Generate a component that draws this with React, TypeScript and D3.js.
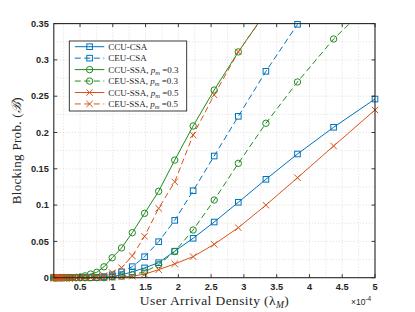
import React from "react";
import * as d3 from "d3";

// x values in units of 1e-4 (log-spaced samples)
const xVals = [
  0.1, 0.11444, 0.13097, 0.14988, 0.17153, 0.1963, 0.22465, 0.25709, 0.29422, 0.33671,
  0.38534, 0.44099, 0.50468, 0.57756, 0.66097, 0.75642, 0.86566, 0.99068, 1.13375, 1.29748,
  1.48486, 1.6993, 1.9447, 2.22555, 2.54696, 2.91478, 3.33571, 3.81744, 4.36874, 5.0,
];

const ccuCsa = [
  0, 0, 0, 0, 0, 0, 0, 0, 0, 0, 0, 0, 0, 0, 0, 0, 0.0005, 0.0015, 0.004, 0.008,
  0.0135, 0.0207, 0.0365, 0.0543, 0.0767, 0.1039, 0.1355, 0.1704, 0.2072, 0.2461,
];
const ceuCsa = [
  0, 0, 0, 0, 0, 0, 0, 0, 0, 0, 0, 0, 0, 0, 0, 0.0005, 0.0015, 0.004, 0.008, 0.0152,
  0.0289, 0.0496, 0.079, 0.1198, 0.1676, 0.2223, 0.2843, 0.349, null, null,
];
const ccuSsa3 = [
  0, 0, 0, 0, 0, 0, 0, 0, 0, 0, 0, 0.0005, 0.001, 0.0025, 0.005, 0.0075, 0.015, 0.0275, 0.041, 0.062,
  0.0887, 0.119, 0.162, 0.209, 0.2585, 0.311, 0.366, null, null, null,
];
const ceuSsa3 = [
  0, 0, 0, 0, 0, 0, 0, 0, 0, 0, 0, 0, 0, 0, 0, 0, 0, 0.001, 0.002, 0.004,
  0.008, 0.018, 0.036, 0.0657, 0.107, 0.1575, 0.2127, 0.2696, 0.3288, 0.3835,
];
const ccuSsa5 = [
  0, 0, 0, 0, 0, 0, 0, 0, 0, 0, 0, 0, 0, 0, 0, 0, 0, 0, 0.001, 0.002,
  0.005, 0.011, 0.019, 0.029, 0.046, 0.0689, 0.1, 0.1377, 0.1814, 0.231,
];
const ceuSsa5 = [
  0, 0, 0, 0, 0, 0, 0, 0, 0, 0, 0, 0, 0, 0, 0.0003, 0.001, 0.003, 0.007, 0.0138, 0.03,
  0.057, 0.0956, 0.132, 0.1966, 0.2517, 0.311, 0.365, null, null, null,
];

const xTicks = [0.5, 1, 1.5, 2, 2.5, 3, 3.5, 4, 4.5, 5];
const xTickLabels = ["0.5", "1", "1.5", "2", "2.5", "3", "3.5", "4", "4.5", "5"];
const yTicks = [0, 0.05, 0.1, 0.15, 0.2, 0.25, 0.3, 0.35];
const yTickLabels = ["0", "0.05", "0.1", "0.15", "0.2", "0.25", "0.3", "0.35"];

type Series = {
  name: string;
  pm?: string;
  values: (number | null)[];
  color: string;
  dashed: boolean;
  marker: "square" | "circle" | "x";
};

const BLUE = "#0072BD";
const GREEN = "#1E8C1E";
const ORANGE = "#D95319";

const series: Series[] = [
  { name: "CCU-CSA", values: ccuCsa, color: BLUE, dashed: false, marker: "square" },
  { name: "CEU-CSA", values: ceuCsa, color: BLUE, dashed: true, marker: "square" },
  { name: "CCU-SSA, ", pm: "0.3", values: ccuSsa3, color: GREEN, dashed: false, marker: "circle" },
  { name: "CEU-SSA, ", pm: "0.3", values: ceuSsa3, color: GREEN, dashed: true, marker: "circle" },
  { name: "CCU-SSA, ", pm: "0.5", values: ccuSsa5, color: ORANGE, dashed: false, marker: "x" },
  { name: "CEU-SSA, ", pm: "0.5", values: ceuSsa5, color: ORANGE, dashed: true, marker: "x" },
];

const W = 415;
const H = 312;
const L = 53.8;
const R = 375;
const T = 23.6;
const B = 277.7;

function Marker({ type, x, y, color }: { type: string; x: number; y: number; color: string }) {
  if (type === "square") {
    return <rect x={x - 2.8} y={y - 2.8} width={5.6} height={5.6} fill="none" stroke={color} strokeWidth={1} />;
  }
  if (type === "circle") {
    return <circle cx={x} cy={y} r={3.2} fill="none" stroke={color} strokeWidth={1} />;
  }
  const s = 3.2;
  return (
    <path
      d={`M${x - s},${y - s}L${x + s},${y + s}M${x - s},${y + s}L${x + s},${y - s}`}
      stroke={color}
      strokeWidth={1}
      fill="none"
    />
  );
}

export default function App() {
  const x = d3.scaleLinear().domain([0.1, 5]).range([L, R]);
  const y = d3.scaleLinear().domain([0, 0.35]).range([B, T]);

  const line = d3
    .line<[number, number | null]>()
    .defined((d) => d[1] !== null)
    .x((d) => x(d[0]))
    .y((d) => y(d[1] as number));

  const minorX = d3.range(0.25, 5.001, 0.25);
  const minorY = d3.range(0.025, 0.3501, 0.025);

  const axisColor = "#262626";
  const tickLen = 3.5;
  const fontTick = "'Liberation Sans', Arial, sans-serif";
  const fontSerif = "'Liberation Serif', 'DejaVu Serif', serif";

  const legX = 69.3;
  const legY = 41;
  const legW = 117.4;
  const legH = 70;
  const rowH = 11.45;

  return (
    <svg width={W} height={H} style={{ position: "absolute", left: 0, top: 0, background: "#fff" }}>
      <defs>
        <clipPath id="plotClip">
          <rect x={L} y={T} width={R - L} height={B - T} />
        </clipPath>
      </defs>
      <rect x={0} y={0} width={W} height={H} fill="#fff" />
      {/* grid */}
      <g stroke="#c8c8c8" strokeWidth={0.6} strokeDasharray="1,2">
        {minorX.map((v, i) => (
          <line key={"gx" + i} x1={x(v)} x2={x(v)} y1={T} y2={B} />
        ))}
        {minorY.map((v, i) => (
          <line key={"gy" + i} x1={L} x2={R} y1={y(v)} y2={y(v)} />
        ))}
      </g>
      {/* series lines */}
      <g clipPath="url(#plotClip)">
        {series.map((s, i) => (
          <path
            key={"l" + i}
            d={line(xVals.map((xv, j) => [xv, s.values[j]] as [number, number | null])) || ""}
            fill="none"
            stroke={s.color}
            strokeWidth={1}
            strokeDasharray={s.dashed ? "6,3.5" : undefined}
          />
        ))}
      </g>
      {/* markers */}
      {series.map((s, i) => (
        <g key={"m" + i}>
          {xVals.map((xv, j) => {
            const v = s.values[j];
            if (v === null || v > 0.3505) return null;
            return <Marker key={j} type={s.marker} x={x(xv)} y={y(v)} color={s.color} />;
          })}
        </g>
      ))}
      {/* axes box */}
      <rect x={L} y={T} width={R - L} height={B - T} fill="none" stroke={axisColor} strokeWidth={1.1} />
      <g stroke={axisColor} strokeWidth={0.9}>
        {xTicks.map((v, i) => (
          <g key={"xt" + i}>
            <line x1={x(v)} x2={x(v)} y1={B} y2={B - tickLen} />
            <line x1={x(v)} x2={x(v)} y1={T} y2={T + tickLen} />
          </g>
        ))}
        {yTicks.map((v, i) => (
          <g key={"yt" + i}>
            <line x1={L} x2={L + tickLen} y1={y(v)} y2={y(v)} />
            <line x1={R} x2={R - tickLen} y1={y(v)} y2={y(v)} />
          </g>
        ))}
      </g>
      {/* tick labels */}
      <g fontFamily={fontTick} fontSize={9.2} fontWeight="bold" fill="#262626">
        {xTicks.map((v, i) => (
          <text key={"xl" + i} x={x(v)} y={B + 12.5} textAnchor="middle">
            {xTickLabels[i]}
          </text>
        ))}
        {yTicks.map((v, i) => (
          <text key={"yl" + i} x={L - 5} y={y(v) + 3.2} textAnchor="end">
            {yTickLabels[i]}
          </text>
        ))}
        <text x={351} y={304.5} fontSize={8.5} fontWeight="normal">
          ×10
          <tspan fontSize={6.5} dy={-4}>
            -4
          </tspan>
        </text>
      </g>
      {/* axis labels */}
      <text
        x={214.5}
        y={305}
        textAnchor="middle"
        fontFamily={fontSerif}
        fontSize={13.5}
        letterSpacing={0.4}
        fill="#262626"
      >
        User Arrival Density (λ
        <tspan fontStyle="italic" fontSize={9.5} dy={2.5}>
          M
        </tspan>
        <tspan dy={-2.5}>)</tspan>
      </text>
      <text
        transform={`translate(21,${(T + B) / 2}) rotate(-90)`}
        textAnchor="middle"
        fontFamily={fontSerif}
        fontSize={13}
        letterSpacing={0.3}
        fill="#262626"
      >
        Blocking Prob. (<tspan fontStyle="italic">ℬ</tspan>)
      </text>
      {/* legend */}
      <g>
        <rect x={legX} y={legY} width={legW} height={legH} fill="#fff" stroke="#262626" strokeWidth={0.9} />
        {series.map((s, i) => {
          const cy = legY + 5.3 + rowH * i + 0.4;
          return (
            <g key={"lg" + i}>
              <line
                x1={legX + 5.5}
                x2={legX + 35}
                y1={cy}
                y2={cy}
                stroke={s.color}
                strokeWidth={1}
                strokeDasharray={s.dashed ? "6,3.5" : undefined}
              />
              <Marker type={s.marker} x={legX + 20.3} y={cy} color={s.color} />
              <text x={legX + 39} y={cy + 3.2} fontFamily={fontSerif} fontSize={9} fill="#262626">
                {s.name}
                {s.pm ? (
                  <>
                    <tspan fontStyle="italic">p</tspan>
                    <tspan fontStyle="italic" fontSize={6.5} dy={2}>
                      m
                    </tspan>
                    <tspan dy={-2}> =</tspan>
                    {s.pm}
                  </>
                ) : null}
              </text>
            </g>
          );
        })}
      </g>
    </svg>
  );
}
